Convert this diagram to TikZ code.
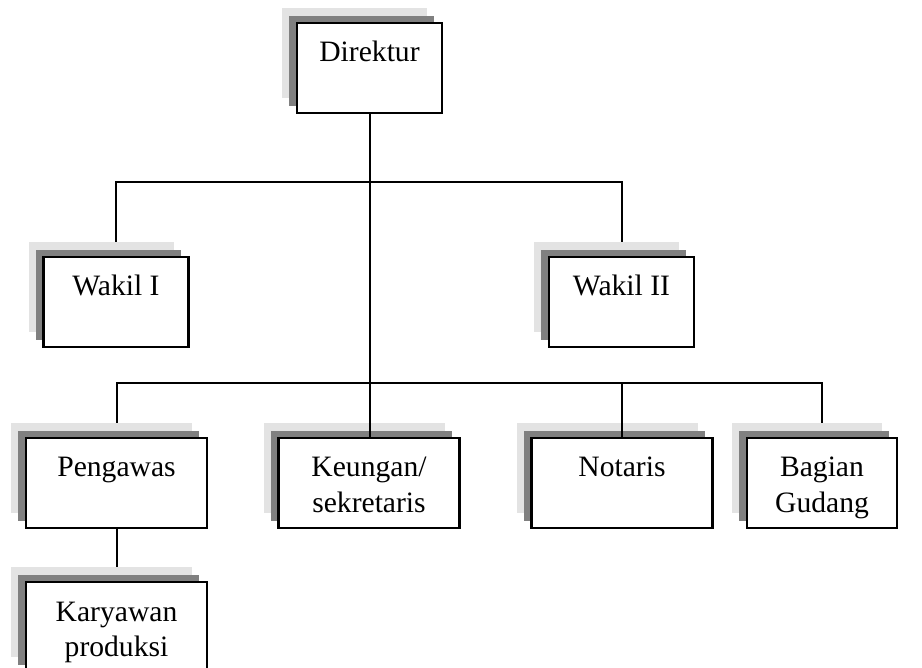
\documentclass[tikz,border=0pt]{standalone}
\usepackage{fontspec}
\setmainfont{Liberation Serif}
\usetikzlibrary{shadows, backgrounds}

\definecolor{shadelight}{HTML}{E3E3E3}
\definecolor{shadedark}{HTML}{808080}

\begin{document}
\begin{tikzpicture}[
  x=0.5pt, y=-0.5pt,
  font=\fontsize{14.8}{17.5}\selectfont,
  box/.style={draw, line width=1.2pt, fill=white, inner sep=0pt, align=center,
              minimum width=72.5pt, minimum height=45pt,
              text height=19.5pt, text depth=25.5pt,
              general shadow={fill=shadelight, shadow xshift=-7.5pt, shadow yshift=7.5pt},
              general shadow={fill=shadedark, shadow xshift=-4pt, shadow yshift=3.5pt}},
  wide/.style={box, minimum width=90.5pt},
  twoline/.style={text height=37pt, text depth=8pt},
  ln/.style={line width=1pt}
]
\useasboundingbox (0,0) rectangle (922,668);

\node[box] (direktur) at (369.5,68) {Direktur};
\node[box] (wakil1) at (116,302) {Wakil I};
\node[box] (wakil2) at (621.5,302) {Wakil II};
\node[wide] (pengawas) at (116.5,483) {Pengawas};
\node[wide, twoline] (keuangan) at (369,483) {Keungan/\\sekretaris};
\node[wide] (notaris) at (622,483) {Notaris};
\node[box, twoline, minimum width=75pt] (gudang) at (822,483) {Bagian\\Gudang};
\node[wide, twoline] (karyawan) at (116.5,627) {Karyawan\\produksi};

\coordinate (bus1) at (369.5,182);
\coordinate (bus2) at (369.5,383);

% lines hidden behind the shadows
\begin{scope}[on background layer]
\draw[ln] (wakil1.north) |- (bus1) -| (wakil2.north);
\draw[ln] (pengawas.north) |- (bus2) -| (gudang.north);
\draw[ln] (pengawas) -- (karyawan);
\end{scope}

% lines over the shadows
\draw[ln] (direktur.south) -- (direktur.south |- keuangan.north);
\draw[ln] (notaris.north) -- (notaris.north |- bus2);
\end{tikzpicture}
\end{document}
